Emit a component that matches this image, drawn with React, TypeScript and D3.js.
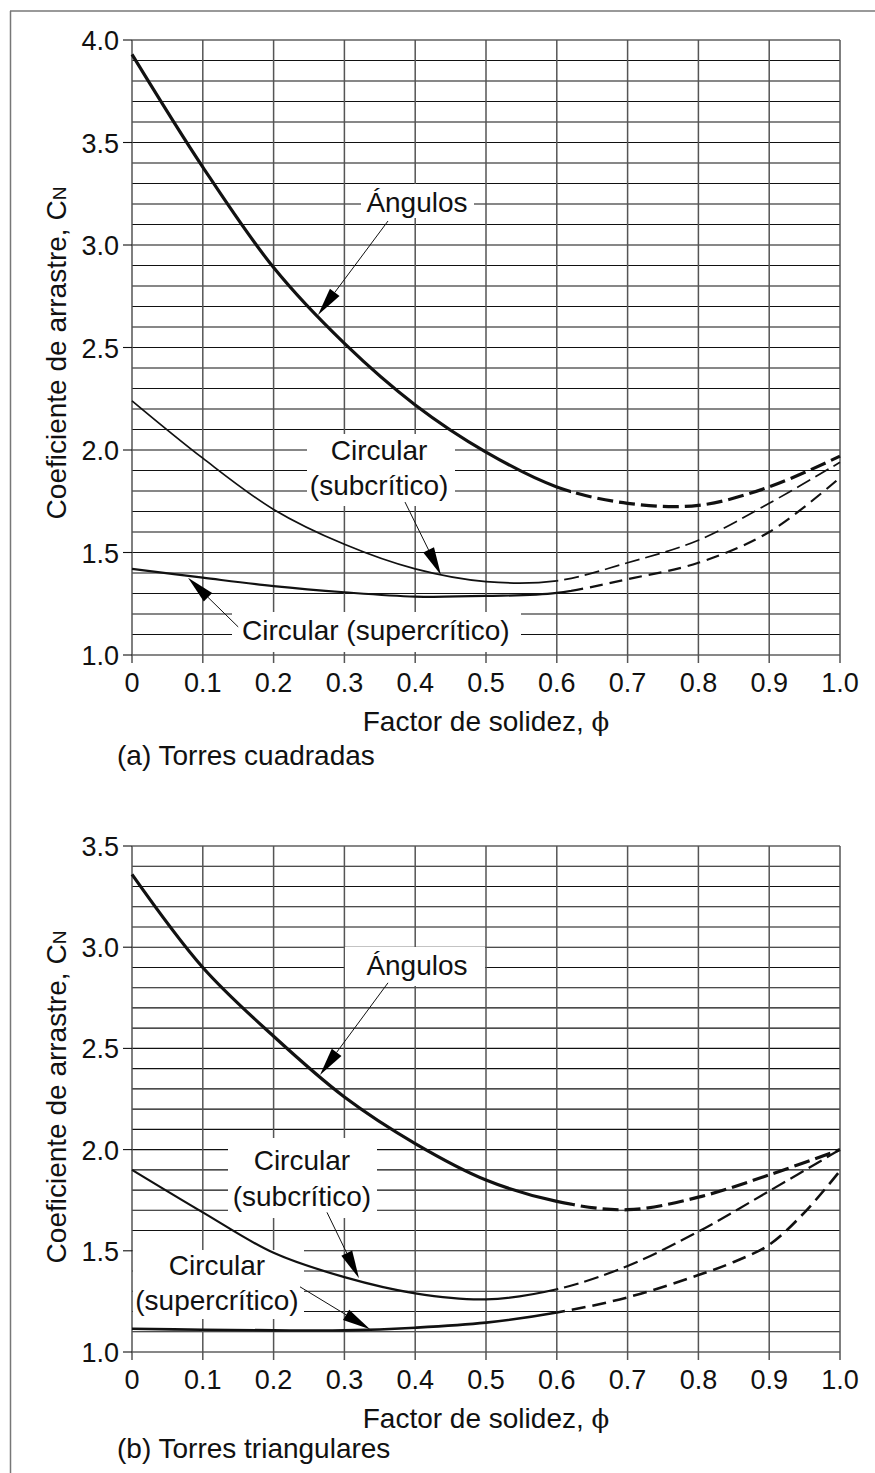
import React from 'react';
import * as d3 from 'd3';

// ---------- DATA ----------
const phi = [0, 0.1, 0.2, 0.3, 0.4, 0.5, 0.6, 0.7, 0.8, 0.9, 1.0];
const phiFine = [0, 0.1, 0.2, 0.3, 0.4, 0.5, 0.6, 0.7, 0.8, 0.85, 0.9, 0.95, 1.0];

const xTicks = [0, 0.1, 0.2, 0.3, 0.4, 0.5, 0.6, 0.7, 0.8, 0.9, 1.0];
const xTickLabels = ['0', '0.1', '0.2', '0.3', '0.4', '0.5', '0.6', '0.7', '0.8', '0.9', '1.0'];

const topYTicks = [1.0, 1.5, 2.0, 2.5, 3.0, 3.5, 4.0];
const topYTickLabels = ['1.0', '1.5', '2.0', '2.5', '3.0', '3.5', '4.0'];
const botYTicks = [1.0, 1.5, 2.0, 2.5, 3.0, 3.5];
const botYTickLabels = ['1.0', '1.5', '2.0', '2.5', '3.0', '3.5'];

// (a) Torres cuadradas
const topAngulos = [3.93, 3.38, 2.89, 2.52, 2.22, 1.99, 1.82, 1.74, 1.73, 1.82, 1.97];
const topSubcritico = [2.24, 1.96, 1.71, 1.54, 1.42, 1.358, 1.362, 1.45, 1.56, 1.74, 1.94];
const topSupercritico = [1.42, 1.377, 1.336, 1.306, 1.285, 1.288, 1.303, 1.37, 1.45, 1.6, 1.865];

// (b) Torres triangulares
const botAngulos = [3.36, 2.9, 2.56, 2.26, 2.03, 1.85, 1.744, 1.703, 1.765, 1.875, 2.0];
const botSubcritico = [1.9, 1.69, 1.49, 1.37, 1.29, 1.26, 1.31, 1.425, 1.595, 1.795, 2.0];
const botSupercritico = [1.115, 1.11, 1.107, 1.107, 1.12, 1.145, 1.195, 1.27, 1.38, 1.445, 1.53, 1.69, 1.895];

const xTitle = 'Factor de solidez, ';
const xTitleSymbol = 'ϕ';
const yTitle = 'Coeficiente de arrastre, C';
const yTitleSub = 'N';

const FONT = "'Liberation Sans', Arial, Helvetica, sans-serif";

type Series = { xs: number[]; ys: number[]; split: number; width: number; dash: string };
type Label = { lines: string[]; x: number; y: number; lineGap: number; box: [number, number, number, number] };
type Arrow = { from: [number, number]; to: [number, number] };

type PanelProps = {
  id: string;
  yDomain: [number, number];
  yRange: [number, number];
  yTicks: number[];
  yTickLabels: string[];
  series: Series[];
  labels: Label[];
  arrows: Arrow[];
  caption: string;
  captionOffset: number;
  titleCenter: number;
};

const X_RANGE: [number, number] = [132, 840];

function Panel(p: PanelProps) {
  const x = d3.scaleLinear().domain([0, 1]).range(X_RANGE);
  const y = d3.scaleLinear().domain(p.yDomain).range(p.yRange);
  const bottom = p.yRange[0];
  const top = p.yRange[1];
  const minor = d3.range(Math.round(p.yDomain[0] * 10), Math.round(p.yDomain[1] * 10) + 1).map((v) => v / 10);

  const line = d3
    .line<[number, number]>()
    .x((d) => x(d[0]))
    .y((d) => y(d[1]))
    .curve(d3.curveCatmullRom.alpha(0.5));

  const arrowShape = (a: Arrow) => {
    const sx = x(a.from[0]);
    const sy = y(a.from[1]);
    const tx = x(a.to[0]);
    const ty = y(a.to[1]);
    const dx = tx - sx;
    const dy = ty - sy;
    const len = Math.hypot(dx, dy);
    const ux = dx / len;
    const uy = dy / len;
    const L = 28;
    const w = 6;
    const bx = tx - ux * L;
    const by = ty - uy * L;
    const nx = -uy;
    const ny = ux;
    return {
      line: [sx, sy, bx, by],
      poly: `${tx},${ty} ${bx + nx * w},${by + ny * w} ${bx - nx * w},${by - ny * w}`,
    };
  };

  return (
    <g>
      <defs>
        {p.series.map((s, i) => (
          <React.Fragment key={i}>
            <clipPath id={`${p.id}-solid-${i}`}>
              <rect x={0} y={0} width={x(s.split)} height={1473} />
            </clipPath>
            <clipPath id={`${p.id}-dash-${i}`}>
              <rect x={x(s.split)} y={0} width={875} height={1473} />
            </clipPath>
          </React.Fragment>
        ))}
      </defs>

      {/* horizontal grid */}
      {minor.map((v, i) => (
        <line key={`h${i}`} x1={X_RANGE[0]} x2={X_RANGE[1]} y1={y(v)} y2={y(v)} stroke="#111" strokeWidth={1.1} />
      ))}
      {/* vertical grid */}
      {xTicks.map((v, i) => (
        <line key={`v${i}`} x1={x(v)} x2={x(v)} y1={top} y2={bottom + 8} stroke="#555" strokeWidth={1.5} />
      ))}
      {/* left ticks */}
      {p.yTicks.map((v, i) => (
        <line key={`t${i}`} x1={123} x2={X_RANGE[0]} y1={y(v)} y2={y(v)} stroke="#111" strokeWidth={1.1} />
      ))}

      {/* white boxes behind labels */}
      {p.labels.map((l, i) => (
        <rect key={`b${i}`} x={l.box[0]} y={l.box[1]} width={l.box[2] - l.box[0]} height={l.box[3] - l.box[1]} fill="#fff" />
      ))}

      {/* curves */}
      {p.series.map((s, i) => {
        const pts = s.xs.map((v, j) => [v, s.ys[j]] as [number, number]);
        const d = line(pts) || '';
        return (
          <g key={`s${i}`}>
            <path d={d} fill="none" stroke="#111" strokeWidth={s.width} clipPath={`url(#${p.id}-solid-${i})`} />
            <path d={d} fill="none" stroke="#111" strokeWidth={s.width} strokeDasharray={s.dash} clipPath={`url(#${p.id}-dash-${i})`} />
          </g>
        );
      })}

      {/* arrows */}
      {p.arrows.map((a, i) => {
        const s = arrowShape(a);
        return (
          <g key={`a${i}`}>
            <line x1={s.line[0]} y1={s.line[1]} x2={s.line[2]} y2={s.line[3]} stroke="#111" strokeWidth={1} />
            <polygon points={s.poly} fill="#000" />
          </g>
        );
      })}

      {/* labels */}
      {p.labels.map((l, i) => (
        <text key={`l${i}`} fontFamily={FONT} fontSize={28} textAnchor="middle" fill="#111">
          {l.lines.map((t, j) => (
            <tspan key={j} x={x(l.x)} y={y(l.y) + 10 + j * l.lineGap}>
              {t}
            </tspan>
          ))}
        </text>
      ))}

      {/* y tick labels */}
      {p.yTicks.map((v, i) => (
        <text key={`yl${i}`} x={119} y={y(v) + 10} textAnchor="end" fontFamily={FONT} fontSize={27} fill="#111">
          {p.yTickLabels[i]}
        </text>
      ))}
      {/* x tick labels */}
      {xTicks.map((v, i) => (
        <text key={`xl${i}`} x={x(v)} y={bottom + 37} textAnchor="middle" fontFamily={FONT} fontSize={27} fill="#111">
          {xTickLabels[i]}
        </text>
      ))}

      {/* axis titles */}
      <text x={(X_RANGE[0] + X_RANGE[1]) / 2} y={bottom + 76} textAnchor="middle" fontFamily={FONT} fontSize={28} fill="#111">
        {xTitle}
        <tspan fontFamily="'DejaVu Serif', 'Liberation Serif', serif" fontSize={26}>
          {xTitleSymbol}
        </tspan>
      </text>
      <text
        transform={`translate(66, ${p.titleCenter}) rotate(-90)`}
        textAnchor="middle"
        fontFamily={FONT}
        fontSize={28}
        fill="#111"
      >
        {yTitle}
        <tspan fontSize={19}>{yTitleSub}</tspan>
      </text>

      {/* caption */}
      <text x={117} y={bottom + p.captionOffset} fontFamily={FONT} fontSize={28} fill="#111">
        {p.caption}
      </text>
    </g>
  );
}

export default function App() {
  const topSeries: Series[] = [
    { xs: phi, ys: topAngulos, split: 0.62, width: 3.2, dash: '16 6' },
    { xs: phi, ys: topSubcritico, split: 0.6, width: 1.7, dash: '15 6' },
    { xs: phi, ys: topSupercritico, split: 0.62, width: 2.2, dash: '13 7' },
  ];
  const botSeries: Series[] = [
    { xs: phi, ys: botAngulos, split: 0.62, width: 3.2, dash: '16 6' },
    { xs: phi, ys: botSubcritico, split: 0.6, width: 2.2, dash: '15 6' },
    { xs: phiFine, ys: botSupercritico, split: 0.6, width: 2.6, dash: '14 7' },
  ];

  const topLabels: Label[] = [
    { lines: ['Ángulos'], x: 0.4025, y: 3.21, lineGap: 0, box: [361, 184, 474, 218] },
    { lines: ['Circular', '(subcrítico)'], x: 0.349, y: 2.0, lineGap: 35, box: [307, 434, 455, 506] },
    { lines: ['Circular (supercrítico)'], x: 0.3445, y: 1.122, lineGap: 0, box: [232, 612, 521, 652] },
  ];
  const topArrows: Arrow[] = [
    { from: [0.3616, 3.117], to: [0.2627, 2.659] },
    { from: [0.3856, 1.746], to: [0.4364, 1.39] },
    { from: [0.150, 1.137], to: [0.0791, 1.377] },
  ];

  const botLabels: Label[] = [
    { lines: ['Ángulos'], x: 0.4025, y: 2.913, lineGap: 0, box: [345, 947, 485, 986] },
    { lines: ['Circular', '(subcrítico)'], x: 0.24, y: 1.95, lineGap: 36, box: [228, 1138, 377, 1218] },
    { lines: ['Circular', '(supercrítico)'], x: 0.12, y: 1.431, lineGap: 35, box: [133, 1250, 304, 1319] },
  ];
  const botArrows: Arrow[] = [
    { from: [0.3616, 2.824], to: [0.2655, 2.369] },
    { from: [0.2754, 1.69], to: [0.3206, 1.364] },
    { from: [0.2373, 1.322], to: [0.3362, 1.112] },
  ];

  return (
    <div style={{ position: 'absolute', left: 0, top: 0 }}>
      <svg width={875} height={1473} viewBox="0 0 875 1473" style={{ display: 'block', background: '#fff' }}>
        <rect x={0} y={0} width={875} height={1473} fill="#fff" />
        <line x1={10} x2={875} y1={11} y2={11} stroke="#777" strokeWidth={1.5} />
        <line x1={10.5} x2={10.5} y1={11} y2={1473} stroke="#777" strokeWidth={1.5} />
        <Panel
          id="top"
          yDomain={[1, 4]}
          yRange={[655, 40]}
          yTicks={topYTicks}
          yTickLabels={topYTickLabels}
          series={topSeries}
          labels={topLabels}
          arrows={topArrows}
          caption="(a) Torres cuadradas"
          captionOffset={110}
          titleCenter={353}
        />
        <Panel
          id="bot"
          yDomain={[1, 3.5]}
          yRange={[1352, 846]}
          yTicks={botYTicks}
          yTickLabels={botYTickLabels}
          series={botSeries}
          labels={botLabels}
          arrows={botArrows}
          caption="(b) Torres triangulares"
          captionOffset={106}
          titleCenter={1097}
        />
      </svg>
    </div>
  );
}
